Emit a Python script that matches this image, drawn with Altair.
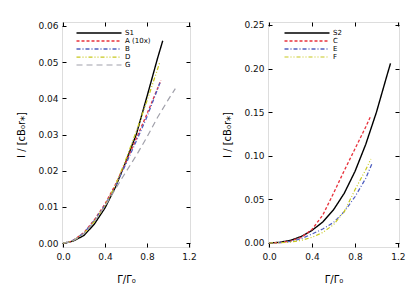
import altair as alt
import pandas as pd

# ---------------- data ----------------
# left panel
x_S1 = [0, 0.05, 0.1, 0.2, 0.3, 0.4, 0.5, 0.6, 0.7, 0.8, 0.9, 0.95]
y_S1 = [0, 0.0002, 0.0006, 0.0021, 0.0053, 0.0097, 0.0155, 0.0226, 0.0302, 0.0405, 0.051, 0.0559]
x_A = [0, 0.05, 0.1, 0.2, 0.3, 0.4, 0.5, 0.6, 0.7, 0.8, 0.933]
y_A = [0, 0.0002, 0.0008, 0.0029, 0.0065, 0.0108, 0.0162, 0.0224, 0.029, 0.0357, 0.045]
x_B = [0, 0.05, 0.1, 0.2, 0.3, 0.4, 0.5, 0.6, 0.7, 0.8, 0.924]
y_B = [0, 0.0002, 0.0008, 0.0028, 0.0063, 0.0105, 0.0158, 0.0219, 0.0283, 0.0349, 0.0443]
x_D = [0, 0.05, 0.1, 0.2, 0.3, 0.4, 0.5, 0.6, 0.7, 0.8, 0.924]
y_D = [0, 0.0002, 0.0007, 0.0026, 0.006, 0.0103, 0.016, 0.0232, 0.031, 0.0393, 0.0501]
x_G = [0, 0.05, 0.1, 0.2, 0.3, 0.4, 0.5, 0.6, 0.7, 0.8, 0.9, 1.0, 1.07]
y_G = [0, 0.0002, 0.0007, 0.0026, 0.006, 0.0102, 0.015, 0.0197, 0.0243, 0.0293, 0.0347, 0.0395, 0.0427]

# right panel
x_S2 = [0, 0.1, 0.2, 0.3, 0.4, 0.5, 0.6, 0.7, 0.8, 0.9, 1.0, 1.1, 1.131]
y_S2 = [0, 0.0008, 0.003, 0.0075, 0.0145, 0.024, 0.038, 0.057, 0.082, 0.113, 0.15, 0.193, 0.206]
x_C = [0, 0.1, 0.2, 0.3, 0.4, 0.5, 0.6, 0.7, 0.8, 0.9, 0.948]
y_C = [0, 0.0004, 0.0022, 0.0065, 0.0155, 0.032, 0.057, 0.083, 0.108, 0.133, 0.146]
x_E = [0, 0.1, 0.2, 0.3, 0.4, 0.5, 0.6, 0.7, 0.8, 0.9, 0.957]
y_E = [0, 0.0004, 0.0018, 0.005, 0.0103, 0.016, 0.0235, 0.036, 0.053, 0.074, 0.0906]
x_F = [0, 0.1, 0.2, 0.3, 0.4, 0.5, 0.6, 0.7, 0.8, 0.9, 0.948]
y_F = [0, 0.0002, 0.001, 0.003, 0.0065, 0.012, 0.021, 0.036, 0.061, 0.084, 0.0963]

left_names = ["S1", "A (10x)", "B", "D", "G"]
right_names = ["S2", "C", "E", "F"]
x_ticks = [0.0, 0.4, 0.8, 1.2]
left_yticks = [0.00, 0.01, 0.02, 0.03, 0.04, 0.05, 0.06]
right_yticks = [0.00, 0.05, 0.10, 0.15, 0.20, 0.25]

RED = "#e8323c"
BLUE = "#4f5fc0"
YEL = "#c8c81e"
GRAY = "#a0a0aa"
BLACK = "#000000"


def frame(names, xs, ys):
    rows = []
    for n, xx, yy in zip(names, xs, ys):
        for a, b in zip(xx, yy):
            rows.append({"series": n, "x": a, "y": b})
    return pd.DataFrame(rows)


df_left = frame(left_names, [x_S1, x_A, x_B, x_D, x_G], [y_S1, y_A, y_B, y_D, y_G])
df_right = frame(right_names, [x_S2, x_C, x_E, x_F], [y_S2, y_C, y_E, y_F])

FONT = "DejaVu Sans"
YTITLE = "I / [cB₀r⁎]"
XTITLE = "Γ/Γ₀"


def panel(df, names, colors, dashes, widths, ydom, yticks, w, h, lx):
    leg = alt.Legend(title=None, orient="none", legendX=lx, legendY=7,
                     symbolType="M-7.5,0H7.5", symbolSize=36, symbolStrokeWidth=1.2,
                     symbolFillColor="transparent",
                     labelFontSize=7, labelFont=FONT, labelColor="#000000",
                     rowPadding=1, padding=0, labelOffset=22)
    xsc = alt.Scale(domain=[-0.01, 1.21], nice=False, zero=False)
    ysc = alt.Scale(domain=ydom, nice=False, zero=False)
    common_axis = dict(offset=-4, tickSize=4, domain=False, grid=False,
                       tickColor="#000000", labelFont=FONT, labelFontSize=9,
                       labelColor="#111111", titleFont=FONT, titleFontSize=10,
                       titleFontWeight="normal", titleColor="#000000")
    lines = alt.Chart(df).mark_line().encode(
        x=alt.X("x:Q", scale=xsc,
                axis=alt.Axis(values=x_ticks, format=".1f", orient="bottom",
                              labelPadding=5, title=XTITLE, titlePadding=13,
                              **common_axis)),
        y=alt.Y("y:Q", scale=ysc,
                axis=alt.Axis(values=yticks, format=".2f", orient="left",
                              labelPadding=4, title=YTITLE, titlePadding=11,
                              **common_axis)),
        color=alt.Color("series:N", scale=alt.Scale(domain=names, range=colors),
                        sort=names, legend=leg),
        strokeDash=alt.StrokeDash("series:N", scale=alt.Scale(domain=names, range=dashes),
                                  sort=names, legend=leg),
        strokeWidth=alt.StrokeWidth("series:N", scale=alt.Scale(domain=names, range=widths),
                                    sort=names, legend=leg),
        order="x:Q",
    )
    mirror = alt.Chart(df).mark_line(opacity=0).encode(
        x=alt.X("x:Q", scale=xsc,
                axis=alt.Axis(values=x_ticks, orient="top", labels=False, title=None,
                              **common_axis)),
        y=alt.Y("y:Q", scale=ysc,
                axis=alt.Axis(values=yticks, orient="right", labels=False, title=None,
                              **common_axis)),
        detail="series:N",
    )
    return alt.layer(lines, mirror).resolve_axis(x="independent", y="independent").properties(
        width=w, height=h)


left = panel(df_left, left_names, [BLACK, RED, BLUE, YEL, GRAY],
             [[1, 0], [3, 2], [4, 2, 1, 2], [4, 2, 1, 2, 1, 2], [6, 4]],
             [1.4, 1.2, 1.2, 1.2, 1.2], [-0.0011, 0.0611], left_yticks, 128, 225, 33)
right = panel(df_right, right_names, [BLACK, RED, BLUE, YEL],
              [[1, 0], [3, 2], [4, 2, 1, 2], [4, 2, 1, 2, 1, 2]],
              [1.4, 1.2, 1.2, 1.2], [-0.0046, 0.2534], right_yticks, 131, 225, 35)

chart = alt.hconcat(left, right, spacing=25).resolve_scale(
    color="independent", strokeDash="independent", strokeWidth="independent"
).properties(
    padding={"left": 8, "top": 12, "right": 0, "bottom": 0}
).configure_view(stroke="#000000", strokeWidth=1).configure(background="white")

chart.save("out.html", embed_options={"renderer": "svg", "actions": False})
